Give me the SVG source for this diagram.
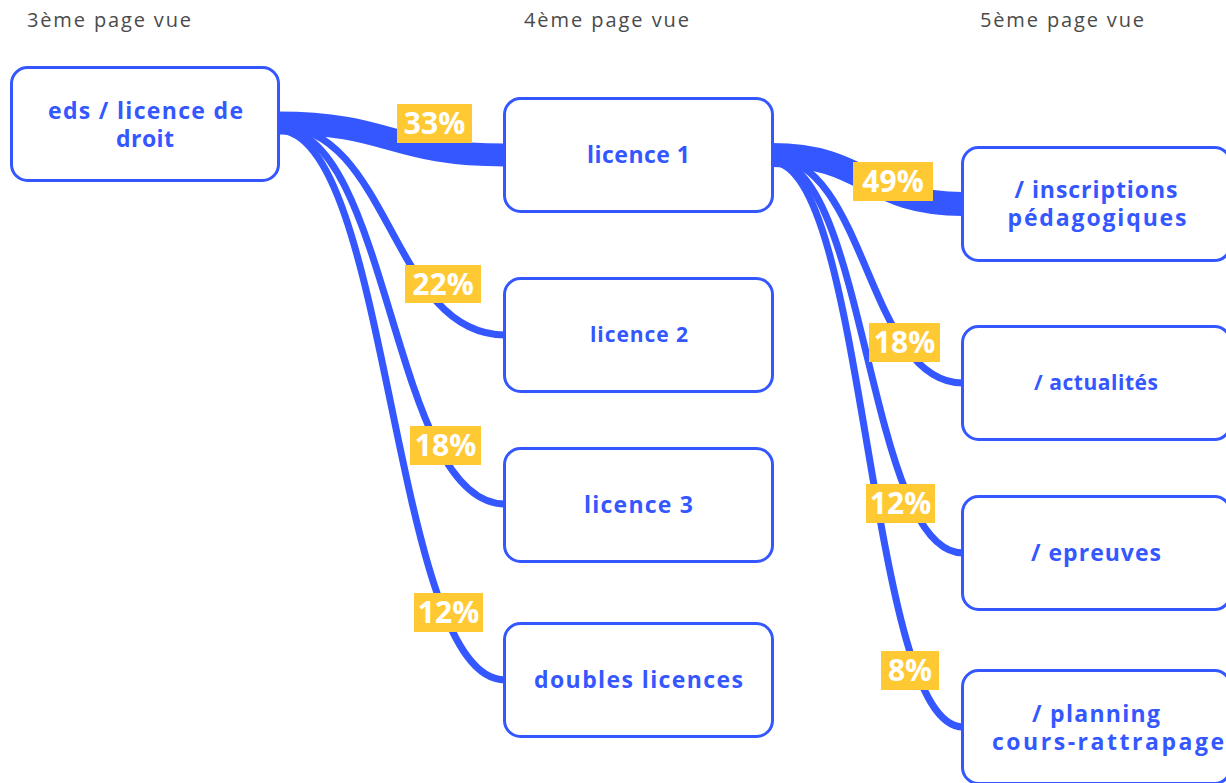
<svg xmlns="http://www.w3.org/2000/svg" width="1226" height="783" viewBox="0 0 1226 783">
<style>
.hdr{font-family:"Open Sans","Noto Sans",sans-serif;font-size:20px;fill:#4a4a4a}
.box{fill:#fff;stroke:#3457FF;stroke-width:3}
.lbl{font-family:"Open Sans","Noto Sans",sans-serif;font-weight:700;font-size:23px;fill:#3457FF;text-anchor:middle}
.lnk{fill:none;stroke:#3457FF;stroke-width:7}
.pbg{fill:#FFC933}
.pct{font-family:"Open Sans","Noto Sans",sans-serif;font-weight:700;font-size:30px;fill:#fff;text-anchor:middle}
</style>
<rect width="1226" height="783" fill="#fff"/>
<g id="headers">
<text class="hdr" x="27" y="27" textLength="164">3ème page vue</text>
<text class="hdr" x="524" y="27" textLength="165">4ème page vue</text>
<text class="hdr" x="980" y="27" textLength="164">5ème page vue</text>
</g>
<g id="connectors">
<path class="lnk" d="M278,126 C391,126 391,335 505,335"/>
<path class="lnk" d="M278,128 C391,128 391,504 505,504"/>
<path class="lnk" d="M278,130 C391,130 391,680 505,680"/>
<path class="lnk" style="stroke-width:23" d="M278,123 C391,123 391,155 505,155"/>
<path class="lnk" d="M772,158 C867,158 867,383 963,383"/>
<path class="lnk" d="M772,160 C867,160 867,553 963,553"/>
<path class="lnk" d="M772,162 C867,162 867,727 963,727"/>
<path class="lnk" style="stroke-width:24" d="M772,155 C867,155 867,204 963,204"/>
<rect class="pbg" x="397" y="104" width="75" height="39"/>
<text class="pct" x="434.5" y="134">33%</text>
<rect class="pbg" x="405" y="265" width="76" height="38"/>
<text class="pct" x="443" y="295">22%</text>
<rect class="pbg" x="410" y="426" width="71" height="39"/>
<text class="pct" x="445.5" y="456">18%</text>
<rect class="pbg" x="414" y="593" width="69" height="39"/>
<text class="pct" x="448.5" y="623">12%</text>
<rect class="pbg" x="853" y="162" width="80" height="39"/>
<text class="pct" x="893" y="192">49%</text>
<rect class="pbg" x="869" y="323" width="71" height="39"/>
<text class="pct" x="904.5" y="353">18%</text>
<rect class="pbg" x="866" y="484" width="69" height="39"/>
<text class="pct" x="900.5" y="514">12%</text>
<rect class="pbg" x="881" y="651" width="58" height="39"/>
<text class="pct" x="910" y="681">8%</text>
</g>
<g id="node-eds">
<rect class="box" x="11.5" y="67.5" width="267" height="113" rx="16"/>
<text class="lbl" x="145.5" y="119" textLength="195">eds / licence de</text>
<text class="lbl" x="145" y="147" textLength="58">droit</text>
</g>
<g id="node-licence1">
<rect class="box" x="504.5" y="98.5" width="268" height="113" rx="16"/>
<text class="lbl" x="638.5" y="163" textLength="103">licence 1</text>
</g>
<g id="node-licence2">
<rect class="box" x="504.5" y="278.5" width="268" height="113" rx="16"/>
<text class="lbl" style="font-size:21px" x="639" y="342" textLength="98">licence 2</text>
</g>
<g id="node-licence3">
<rect class="box" x="504.5" y="448.5" width="268" height="113" rx="16"/>
<text class="lbl" x="638.5" y="513" textLength="109">licence 3</text>
</g>
<g id="node-doubles">
<rect class="box" x="504.5" y="623.5" width="268" height="113" rx="16"/>
<text class="lbl" x="638.5" y="688" textLength="209">doubles licences</text>
</g>
<g id="node-inscriptions">
<rect class="box" x="962.5" y="147.5" width="268" height="113" rx="16"/>
<text class="lbl" x="1096" y="198" textLength="163">/ inscriptions</text>
<text class="lbl" x="1097" y="226" textLength="179">pédagogiques</text>
</g>
<g id="node-actualites">
<rect class="box" x="962.5" y="326.5" width="268" height="113" rx="16"/>
<text class="lbl" style="font-size:21px" x="1096" y="390" textLength="124">/ actualités</text>
</g>
<g id="node-epreuves">
<rect class="box" x="962.5" y="496.5" width="268" height="113" rx="16"/>
<text class="lbl" x="1096" y="561" textLength="130">/ epreuves</text>
</g>
<g id="node-planning">
<rect class="box" x="962.5" y="670.5" width="268" height="113" rx="16"/>
<text class="lbl" x="1096" y="722" textLength="128">/ planning</text>
<text class="lbl" x="1108" y="750" textLength="232">cours-rattrapage</text>
</g>
</svg>
